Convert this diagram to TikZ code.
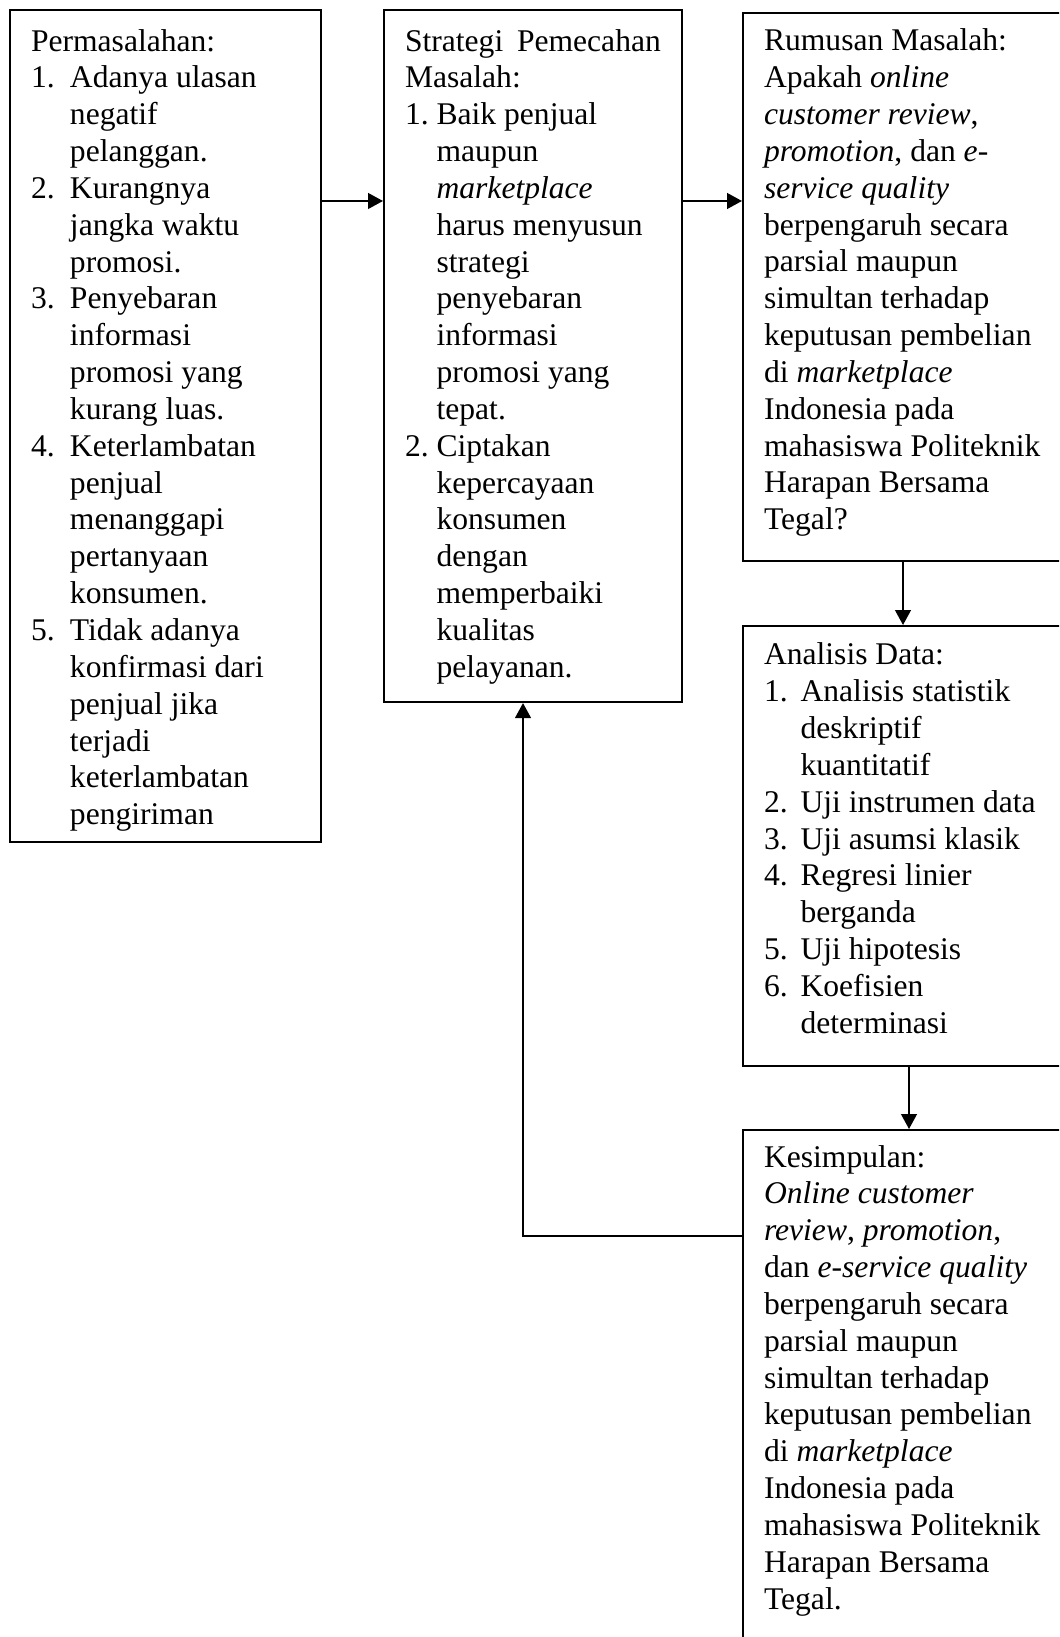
\documentclass[tikz,border=0pt]{standalone}
\usepackage{fontspec}
\setmainfont{Liberation Serif}
\usepackage{tikz}
\usetikzlibrary{arrows.meta}
\tikzset{
    flow-box/.style = {draw, line width=0.75pt, rectangle, anchor=north west, inner xsep=8pt, inner ysep=0pt, font=\fontsize{12pt}{14pt}\selectfont},
    flow-arrow/.style = {line width=0.75pt, -{Triangle[length=5.7pt, width=6pt]}},
}

\begin{document}
\begin{tikzpicture}[x=0.38pt, y=-0.38pt]
\useasboundingbox (0,0) rectangle (1059,1637);
\clip (0,0) rectangle (1059,1637);

\node[flow-box] (masalah) at (9,9) {\begin{minipage}[c][316.2pt][t]{102.2pt}\vspace*{5.8pt}
    \begin{tabular}[t]{@{}p{14.8pt}@{}l@{}}
    \multicolumn{2}{@{}l@{}}{Permasalahan:}\\
    1. & Adanya ulasan\\
       & negatif\\
       & pelanggan.\\
    2. & Kurangnya\\
       & jangka waktu\\
       & promosi.\\
    3. & Penyebaran\\
       & informasi\\
       & promosi yang\\
       & kurang luas.\\
    4. & Keterlambatan\\
       & penjual\\
       & menanggapi\\
       & pertanyaan\\
       & konsumen.\\
    5. & Tidak adanya\\
       & konfirmasi dari\\
       & penjual jika\\
       & terjadi\\
       & keterlambatan\\
       & pengiriman
    \end{tabular}
\end{minipage}};

\node[flow-box] (strategi) at (383,9) {\begin{minipage}[c][263pt][t]{97.2pt}\vspace*{5.8pt}
    \begin{tabular}[t]{@{}p{12pt}@{}l@{}}
    \multicolumn{2}{@{}l@{}}{\makebox[97.2pt][s]{Strategi Pemecahan}}\\
    \multicolumn{2}{@{}l@{}}{Masalah:}\\
    1. & Baik penjual\\
       & maupun\\
       & \textit{marketplace}\\
       & harus menyusun\\
       & strategi\\
       & penyebaran\\
       & informasi\\
       & promosi yang\\
       & tepat.\\
    2. & Ciptakan\\
       & kepercayaan\\
       & konsumen\\
       & dengan\\
       & memperbaiki\\
       & kualitas\\
       & pelayanan.
    \end{tabular}
\end{minipage}};

\node[flow-box] (rumusan) at (742,12) {\begin{minipage}[c][208.2pt][t]{110.5pt}\vspace*{4.6pt}
    \begin{tabular}[t]{@{}l@{}}
    Rumusan Masalah:\\
    Apakah \textit{online}\\
    \textit{customer review},\\
    \textit{promotion}, dan \textit{e-}\\
    \textit{service quality}\\
    berpengaruh secara\\
    parsial maupun\\
    simultan terhadap\\
    keputusan pembelian\\
    di \textit{marketplace}\\
    Indonesia pada\\
    mahasiswa Politeknik\\
    Harapan Bersama\\
    Tegal?
    \end{tabular}
\end{minipage}};

\node[flow-box] (analisis) at (742,625) {\begin{minipage}[c][167.2pt][t]{110.5pt}\vspace*{5pt}
    \begin{tabular}[t]{@{}p{13.9pt}@{}l@{}}
    \multicolumn{2}{@{}l@{}}{Analisis Data:}\\
    1. & Analisis statistik\\
       & deskriptif\\
       & kuantitatif\\
    2. & Uji instrumen data\\
    3. & Uji asumsi klasik\\
    4. & Regresi linier\\
       & berganda\\
    5. & Uji hipotesis\\
    6. & Koefisien\\
       & determinasi
    \end{tabular}
\end{minipage}};

\node[flow-box] (simpulan) at (742,1129) {\begin{minipage}[c][198pt][t]{110.5pt}\vspace*{4.3pt}
    \begin{tabular}[t]{@{}l@{}}
    Kesimpulan:\\
    \textit{Online customer}\\
    \textit{review}, \textit{promotion},\\
    dan \textit{e-service quality}\\
    berpengaruh secara\\
    parsial maupun\\
    simultan terhadap\\
    keputusan pembelian\\
    di \textit{marketplace}\\
    Indonesia pada\\
    mahasiswa Politeknik\\
    Harapan Bersama\\
    Tegal.
    \end{tabular}
\end{minipage}};

% where the connectors run
\coordinate (a-row) at (0,201);
\coordinate (d-one) at (903,0);
\coordinate (d-two) at (909,0);
\coordinate (back) at (523,1235.5);

\draw[flow-arrow] (masalah.east |- a-row) -- (strategi.west |- a-row);
\draw[flow-arrow] (strategi.east |- a-row) -- (rumusan.west |- a-row);
\draw[flow-arrow] (rumusan.south -| d-one) -- (analisis.north -| d-one);
\draw[flow-arrow] (analisis.south -| d-two) -- (simpulan.north -| d-two);
\draw[flow-arrow] (simpulan.west |- back) -| (strategi.south -| back);
\end{tikzpicture}
\end{document}
